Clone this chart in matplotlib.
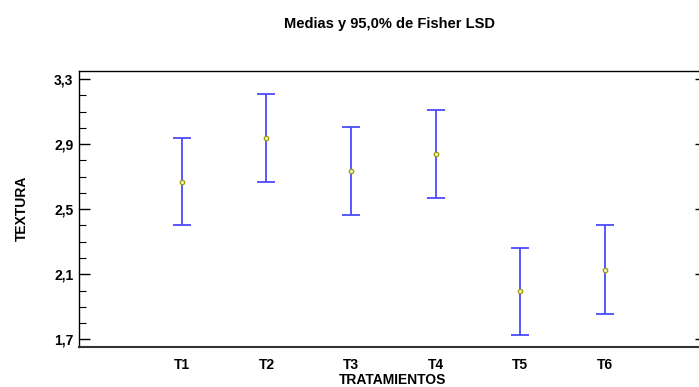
import matplotlib
matplotlib.use("Agg")
import matplotlib.pyplot as plt
from matplotlib.ticker import FixedLocator, MultipleLocator

categories = ["T1", "T2", "T3", "T4", "T5", "T6"]
means = [2.668, 2.939, 2.736, 2.838, 1.995, 2.129]
lower = [2.400, 2.668, 2.465, 2.568, 1.725, 1.858]
upper = [2.939, 3.208, 3.006, 3.107, 2.264, 2.400]
yticks = [1.7, 2.1, 2.5, 2.9, 3.3]
ytick_labels = ["1,7", "2,1", "2,5", "2,9", "3,3"]

plt.rcParams['font.family'] = ['Liberation Sans', 'DejaVu Sans']
plt.rcParams['font.weight'] = 'bold'

W, H = 699, 387
fig = plt.figure(figsize=(W / 100, H / 100), dpi=100)
left_px, right_px, top_px, bot_px = 79, 706, 70.7, 346.7
ax = fig.add_axes([left_px / W, 1 - bot_px / H, (right_px - left_px) / W, (bot_px - top_px) / H])

x = list(range(1, len(categories) + 1))
yerr = [[m - l for m, l in zip(means, lower)], [u - m for u, m in zip(upper, means)]]
ax.errorbar(x, means, yerr=yerr, fmt='none', ecolor='#4a4aff', elinewidth=1.3,
            capsize=6.2, capthick=1.3)
ax.plot(x, means, linestyle='none', marker='o', markersize=3.2,
        markerfacecolor='#f4f4d0', markeredgecolor='#9a9a00', markeredgewidth=0.9)

ax.set_xlim(-0.217, 7.197)
ax.set_ylim(1.655, 3.351)

ax.set_xticks(x)
ax.set_xticklabels(categories, fontsize=10, fontweight='bold')
ax.tick_params(axis='x', length=0, pad=8)

ax.yaxis.set_major_locator(FixedLocator(yticks))
ax.set_yticklabels(ytick_labels, fontsize=10, fontweight='bold')
ax.yaxis.set_minor_locator(MultipleLocator(0.1))
ax.tick_params(axis='y', which='major', direction='in', length=8, width=1, pad=4,
               right=True, labelright=False)
ax.tick_params(axis='y', which='minor', direction='in', length=5, width=0.8, right=False)

for s in ax.spines.values():
    s.set_linewidth(1.0)
    s.set_color('black')
ax.spines['bottom'].set_linewidth(1.5)
ax.spines['bottom'].set_color('#333333')

ax.set_xlabel("TRATAMIENTOS", fontsize=10, fontweight='bold', labelpad=1)
ax.set_ylabel("TEXTURA", fontsize=10, fontweight='bold', labelpad=18)

fig.text((left_px + 700) / 2 / W, 1 - 24 / H, "Medias y 95,0% de Fisher LSD",
         ha='center', va='center', fontsize=10.5, fontweight='bold')

fig.savefig("out.png", dpi=100)
